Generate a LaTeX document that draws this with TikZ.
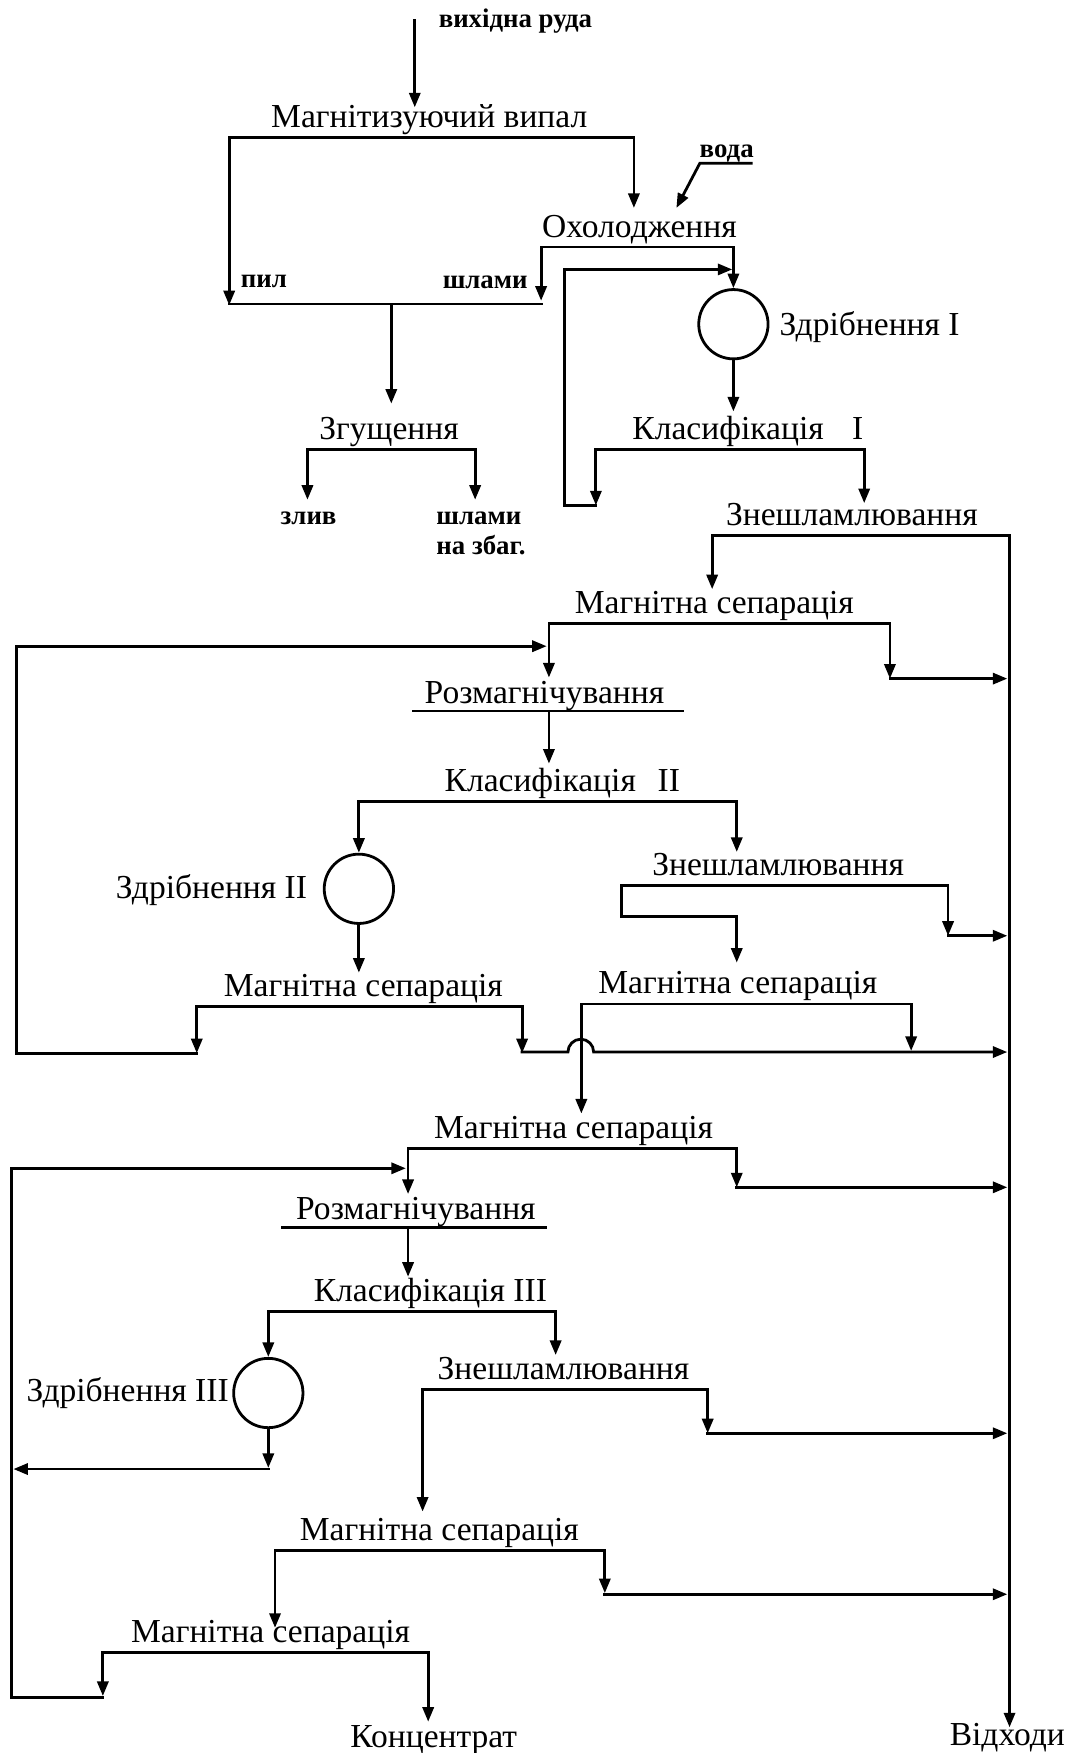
\documentclass[tikz,border=0pt]{standalone}
\usepackage{fontspec}
\setmainfont{Liberation Serif}
\usetikzlibrary{arrows.meta}
\begin{document}
\begin{tikzpicture}[x=0.5pt,y=-0.5pt,
  ln/.style={line width=1.25pt, line cap=rect, line join=miter},
  arr/.style={ln, -{Triangle[length=6.5pt,width=5pt]}},
  txt/.style={inner sep=0pt, font=\fontsize{15}{18}\selectfont},
  lbl/.style={inner sep=0pt, font=\fontsize{12}{14}\selectfont\bfseries},
  mill/.style={circle, draw, line width=1.25pt, minimum size=31pt, inner sep=0pt}]
\useasboundingbox (0,0) rectangle (953,1568);
% ---------- text nodes ----------
\node[lbl,anchor=base] (ore) at (461,25) {вихідна руда};
\node[txt,anchor=base] (roast) at (384,114) {Магнітизуючий випал};
\node[lbl,anchor=base] (water) at (650,141) {вода};
\node[txt,anchor=base] (cool) at (572,212) {Охолодження};
\node[lbl,anchor=base] (dust) at (236,257) {пил};
\node[lbl,anchor=base] (slime) at (434,258) {шлами};
\node[txt,anchor=base] (thick) at (348,393) {Згущення};
\node[lbl,anchor=base] (overflow) at (276,469) {злив};
\node[lbl,anchor=base west] (slimeb) at (390,469) {шлами};
\node[lbl,anchor=base west] (slimec) at (390,496) {на збаг.};
\node[mill] (m1) at (656,290) {};
\node[txt,anchor=base west] (m1t) at (697,300) {Здрібнення I};
\node[txt,anchor=base] (cl1) at (669,393) {Класифікація\hspace{0.6em} I};
\node[txt,anchor=base] (ds1) at (762,470) {Знешламлювання};
\node[txt,anchor=base] (ms1) at (639,549) {Магнітна сепарація};
\node[txt,anchor=base] (dm1) at (487,629) {Розмагнічування};
\node[txt,anchor=base] (cl2) at (503,708) {Класифікація\hspace{0.4em} II};
\node[mill] (m2) at (321,795) {};
\node[txt,anchor=base east] (m2t) at (275,804) {Здрібнення II};
\node[txt,anchor=base] (ds2) at (696,783) {Знешламлювання};
\node[txt,anchor=base] (ms2a) at (325,891) {Магнітна сепарація};
\node[txt,anchor=base] (ms2b) at (660,889) {Магнітна сепарація};
\node[txt,anchor=base] (ms3) at (513,1018) {Магнітна сепарація};
\node[txt,anchor=base] (dm2) at (372,1091) {Розмагнічування};
\node[txt,anchor=base] (cl3) at (385,1164) {Класифікація III};
\node[mill] (m3) at (240,1246) {};
\node[txt,anchor=base east] (m3t) at (205,1254) {Здрібнення III};
\node[txt,anchor=base] (ds3) at (504,1234) {Знешламлювання};
\node[txt,anchor=base] (ms4) at (393,1378) {Магнітна сепарація};
\node[txt,anchor=base] (ms5) at (242,1469) {Магнітна сепарація};
\node[txt,anchor=base] (conc) at (388,1563) {Концентрат};
\node[txt,anchor=base] (tail) at (901,1561) {Відходи};
% ---------- connectors ----------
% ore feed
\draw[arr] (371,18) -- (371,96);
% roasting split
\draw[arr] (386,123) -- (205,123) -- (205,273);
\draw[arr] (386,123) -- (567,123) -- (567,186);
% water
\draw[arr] (672,146) -- (626,146) -- (605,186);
% cooling split
\draw[arr] (570,221) -- (484,221) -- (484,269);
\draw[arr] (570,221) -- (656,221) -- (m1.north);
% dust + slime collector
\draw[ln] (205,272) -- (484,272);
\draw[arr] (350,272) -- (350,361);
% thickening split
\draw[arr] (350,402) -- (275,402) -- (275,447);
\draw[arr] (350,402) -- (425,402) -- (425,447);
% grinding I
\draw[arr] (m1.south) -- (656,368);
% classification I
\draw[arr] (650,402) -- (533,402) -- (533,452);
\draw[arr] (650,402) -- (773,402) -- (773,450);
\draw[arr] (533,452) -- (505,452) -- (505,241) -- (655,241);
% desliming I + tailings main line
\draw[arr] (700,479) -- (637,479) -- (637,527);
\draw[arr] (700,479) -- (903,479) -- (903,1545);
% magnetic separation 1
\draw[arr] (640,558) -- (491,558) -- (491,606);
\draw[arr] (640,558) -- (796,558) -- (796,607);
\draw[arr] (796,607) -- (901,607);
% recycle loop 1
\draw[arr] (176,942) -- (15,942) -- (15,578) -- (489,578);
% demagnetisation 1
\draw[ln] (370,636) -- (611,636);
\draw[arr] (491,638) -- (491,683);
% classification II
\draw[arr] (490,717) -- (321,717) -- (m2.north);
\draw[arr] (490,717) -- (659,717) -- (659,762);
% grinding II
\draw[arr] (m2.south) -- (321,870);
% magnetic separation 2a
\draw[arr] (320,900) -- (176,900) -- (176,942);
\draw[arr] (320,900) -- (467,900) -- (467,942);
\draw[arr] (467,941) -- (508,941) arc[start angle=180,end angle=0,radius=5.75pt] -- (901,941);
% desliming II
\draw[arr] (700,792) -- (848,792) -- (848,837);
\draw[arr] (848,837) -- (901,837);
\draw[arr] (700,792) -- (556,792) -- (556,820) -- (659,820) -- (659,861);
% magnetic separation 2b
\draw[arr] (520,898) -- (815,898) -- (815,940);
\draw[arr] (520,898) -- (520,996);
% magnetic separation 3
\draw[arr] (512,1027) -- (365,1027) -- (365,1068);
\draw[arr] (512,1027) -- (659,1027) -- (659,1062);
\draw[arr] (659,1062) -- (901,1062);
% recycle loop 2
\draw[arr] (92,1518) -- (10,1518) -- (10,1045) -- (363,1045);
% demagnetisation 2
\draw[ln] (253,1098) -- (488,1098);
\draw[arr] (365,1100) -- (365,1142);
% classification III
\draw[arr] (385,1173) -- (240,1173) -- (m3.north);
\draw[arr] (385,1173) -- (497,1173) -- (497,1212);
% grinding III
\draw[arr] (m3.south) -- (240,1313);
\draw[arr] (240,1314) -- (12,1314);
% desliming III
\draw[arr] (500,1243) -- (633,1243) -- (633,1282);
\draw[arr] (633,1282) -- (901,1282);
\draw[arr] (500,1243) -- (378,1243) -- (378,1352);
% magnetic separation 4
\draw[arr] (400,1387) -- (541,1387) -- (541,1425);
\draw[arr] (541,1426) -- (901,1426);
\draw[arr] (400,1387) -- (246,1387) -- (246,1456);
% magnetic separation 5
\draw[arr] (240,1478) -- (92,1478) -- (92,1517);
\draw[arr] (240,1478) -- (383,1478) -- (383,1540);
\end{tikzpicture}
\end{document}
